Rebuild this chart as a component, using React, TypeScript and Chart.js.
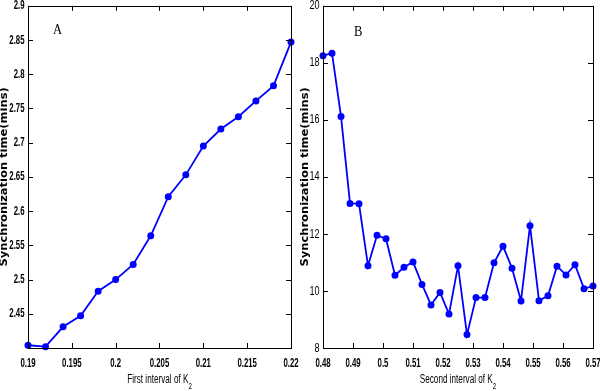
import React, { useEffect, useRef } from "react";
import { Chart, registerables } from "chart.js";

Chart.register(...registerables);

// Panel A data
const xA = [0.19, 0.192, 0.194, 0.196, 0.198, 0.2, 0.202, 0.204, 0.206, 0.208, 0.21, 0.212, 0.214, 0.216, 0.218, 0.22];
const yA = [2.404, 2.402, 2.431, 2.447, 2.483, 2.5, 2.522, 2.564, 2.621, 2.653, 2.695, 2.72, 2.738, 2.761, 2.783, 2.847];
const xTicksA = [0.19, 0.195, 0.2, 0.205, 0.21, 0.215, 0.22];
const yTicksA = [2.4, 2.45, 2.5, 2.55, 2.6, 2.65, 2.7, 2.75, 2.8, 2.85, 2.9];

// Panel B data
const xB = [0.48, 0.483, 0.486, 0.489, 0.492, 0.495, 0.498, 0.501, 0.504, 0.507, 0.51, 0.513, 0.516, 0.519, 0.522, 0.525, 0.528, 0.531, 0.534, 0.537, 0.54, 0.543, 0.546, 0.549, 0.552, 0.555, 0.558, 0.561, 0.564, 0.567, 0.57];
const yB = [18.25, 18.34, 16.12, 13.07, 13.06, 10.88, 11.95, 11.83, 10.55, 10.83, 11.02, 10.23, 9.51, 9.95, 9.19, 10.88, 8.47, 9.77, 9.77, 10.99, 11.57, 10.8, 9.65, 12.29, 9.66, 9.83, 10.87, 10.56, 10.92, 10.08, 10.17];
const xTicksB = [0.48, 0.49, 0.5, 0.51, 0.52, 0.53, 0.54, 0.55, 0.56, 0.57];
const yTicksB = [8, 10, 12, 14, 16, 18, 20];

const yTitle = "Synchronization time(mins)";

type PanelCfg = {
  xs: number[];
  ys: number[];
  xTicks: number[];
  yTicks: number[];
  letter: string;
  xLabel: string;
  yAxisWidth: number;
  rightPad: number;
  hideFirstY: boolean;
  yTickBold: boolean;
  letterPos: [number, number];
  titleX: number;
};

const fmt = (v: number) => String(parseFloat(v.toFixed(4)));

function drawText(ctx: CanvasRenderingContext2D, text: string, x: number, y: number, align: CanvasTextAlign, sx: number) {
  ctx.save();
  ctx.translate(x, y);
  ctx.scale(sx, 1);
  ctx.textAlign = align;
  ctx.fillText(text, 0, 0);
  ctx.restore();
}

function makeChart(canvas: HTMLCanvasElement, cfg: PanelCfg) {
  const offX = cfg.letter === "A" ? 0 : 300;
  const framePlugin = {
    id: "frame",
    afterDraw(chart: any) {
      const ctx: CanvasRenderingContext2D = chart.ctx;
      const a = chart.chartArea;
      ctx.save();
      ctx.strokeStyle = "#000";
      ctx.lineWidth = 1;
      ctx.strokeRect(Math.round(a.left) + 0.5, Math.round(a.top) + 0.5, Math.round(a.right - a.left), Math.round(a.bottom - a.top));
      const tl = 5;
      ctx.beginPath();
      const xs = chart.scales.x;
      const ys = chart.scales.y;
      xs.ticks.forEach((t: any) => {
        const px = Math.round(xs.getPixelForValue(t.value)) + 0.5;
        ctx.moveTo(px, a.bottom);
        ctx.lineTo(px, a.bottom - tl);
        ctx.moveTo(px, a.top);
        ctx.lineTo(px, a.top + tl);
      });
      ys.ticks.forEach((t: any) => {
        const py = Math.round(ys.getPixelForValue(t.value)) + 0.5;
        ctx.moveTo(a.left, py);
        ctx.lineTo(a.left + tl, py);
        ctx.moveTo(a.right, py);
        ctx.lineTo(a.right - tl, py);
      });
      ctx.stroke();

      ctx.fillStyle = "#000";
      ctx.textBaseline = "alphabetic";
      // x tick labels
      ctx.font = "bold 13px 'Liberation Sans'";
      cfg.xTicks.forEach((v) => {
        drawText(ctx, fmt(v), xs.getPixelForValue(v), 367, "center", 0.6);
      });
      // y tick labels
      ctx.font = (cfg.yTickBold ? "bold " : "") + "13px 'Liberation Sans'";
      ctx.textBaseline = "middle";
      cfg.yTicks.forEach((v, i) => {
        if (cfg.hideFirstY && i === 0) return;
        drawText(ctx, fmt(v), a.left - 3.5, ys.getPixelForValue(v), "right", cfg.yTickBold ? 0.6 : 0.7);
      });
      // y title
      ctx.textBaseline = "middle";
      ctx.font = "bold 11.5px 'DejaVu Sans'";
      ctx.save();
      ctx.translate(cfg.titleX, (a.top + a.bottom) / 2);
      ctx.rotate(-Math.PI / 2);
      ctx.scale(1, 0.85);
      ctx.textAlign = "center";
      ctx.fillText(yTitle, 0, 0);
      ctx.restore();
      // panel letter
      ctx.textBaseline = "alphabetic";
      ctx.font = "14px 'Liberation Serif'";
      drawText(ctx, cfg.letter, cfg.letterPos[0] - offX, cfg.letterPos[1], "left", 0.9);
      // x label with subscript
      const sx = 0.68;
      ctx.font = "12px 'Liberation Sans'";
      const w1 = ctx.measureText(cfg.xLabel).width * sx;
      ctx.font = "9px 'Liberation Sans'";
      const w2 = ctx.measureText("2").width * sx;
      const cx = (a.left + a.right) / 2;
      const x0 = cx - (w1 + w2) / 2;
      ctx.font = "12px 'Liberation Sans'";
      drawText(ctx, cfg.xLabel, x0, 383, "left", sx);
      ctx.font = "9px 'Liberation Sans'";
      drawText(ctx, "2", x0 + w1, 389, "left", sx);
      ctx.restore();
    },
  };

  return new Chart(canvas, {
    type: "line",
    data: {
      datasets: [
        {
          data: cfg.xs.map((x, i) => ({ x, y: cfg.ys[i] })),
          borderColor: "#0000ff",
          backgroundColor: "#0000ff",
          borderWidth: 1.8,
          pointRadius: 2.6,
          pointStyle: "circle",
          tension: 0,
          clip: false as any,
        },
      ],
    },
    options: {
      responsive: false,
      animation: false,
      layout: { padding: { top: 5, right: cfg.rightPad, left: 0, bottom: 0 } },
      plugins: { legend: { display: false }, tooltip: { enabled: false } },
      scales: {
        x: {
          type: "linear",
          min: cfg.xTicks[0],
          max: cfg.xTicks[cfg.xTicks.length - 1],
          grid: { display: false, drawTicks: false },
          border: { display: false },
          afterBuildTicks: (s: any) => {
            s.ticks = cfg.xTicks.map((v) => ({ value: v }));
          },
          afterFit: (s: any) => {
            s.height = 43;
            s.paddingLeft = 0;
            s.paddingRight = 0;
          },
          ticks: { display: false },
        },
        y: {
          type: "linear",
          min: cfg.yTicks[0],
          max: cfg.yTicks[cfg.yTicks.length - 1],
          grid: { display: false, drawTicks: false },
          border: { display: false },
          afterBuildTicks: (s: any) => {
            s.ticks = cfg.yTicks.map((v) => ({ value: v }));
          },
          afterFit: (s: any) => {
            s.width = cfg.yAxisWidth;
            s.paddingTop = 0;
            s.paddingBottom = 0;
          },
          ticks: { display: false },
        },
      },
    } as any,
    plugins: [framePlugin],
  });
}

export default function App() {
  const refA = useRef<HTMLCanvasElement>(null);
  const refB = useRef<HTMLCanvasElement>(null);

  useEffect(() => {
    const cA = makeChart(refA.current!, {
      xs: xA,
      ys: yA,
      xTicks: xTicksA,
      yTicks: yTicksA,
      letter: "A",
      xLabel: "First interval of K",
      yAxisWidth: 28,
      rightPad: 9,
      hideFirstY: true,
      yTickBold: true,
      letterPos: [53, 34],
      titleX: 4,
    });
    const cB = makeChart(refB.current!, {
      xs: xB,
      ys: yB,
      xTicks: xTicksB,
      yTicks: yTicksB,
      letter: "B",
      xLabel: "Second interval of K",
      yAxisWidth: 23,
      rightPad: 7,
      hideFirstY: false,
      yTickBold: false,
      letterPos: [354, 36],
      titleX: 5,
    });
    return () => {
      cA.destroy();
      cB.destroy();
    };
  }, []);

  return (
    <div style={{ position: "absolute", left: 0, top: 0, width: 600, height: 391, background: "#fff" }}>
      <canvas ref={refA} width={300} height={391} style={{ position: "absolute", left: 0, top: 0, width: 300, height: 391 }} />
      <canvas ref={refB} width={300} height={391} style={{ position: "absolute", left: 300, top: 0, width: 300, height: 391 }} />
    </div>
  );
}
